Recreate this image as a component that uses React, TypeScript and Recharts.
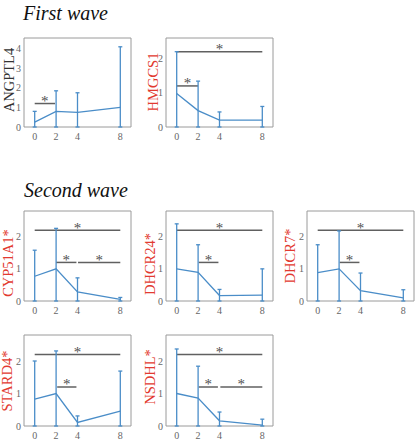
import { ComposedChart, Line, ErrorBar, XAxis, YAxis, ReferenceLine, ReferenceArea } from "recharts";

// sampling days (x axis)
const days = [0, 2, 4, 8];

// first wave
const angptl4Mean = [0.25, 0.8, 0.75, 1.0];
const angptl4Upper = [0.8, 1.85, 1.75, 4.1];
const angptl4Sig = [[0, 1.9, 1.2]];

const hmgcs1Mean = [0.98, 0.48, 0.2, 0.2];
const hmgcs1Upper = [2.2, 1.34, 0.44, 0.6];
const hmgcs1Sig = [[0, 8, 2.2], [0, 2, 1.2]];

// second wave
const cyp51a1Mean = [0.77, 1.0, 0.28, 0.05];
const cyp51a1Upper = [1.58, 2.26, 0.72, 0.11];
const cyp51a1Sig = [[0, 8, 2.2], [2, 3.9, 1.2], [4.05, 8, 1.2]];

const dhcr24Mean = [1.0, 0.89, 0.17, 0.18];
const dhcr24Upper = [2.4, 1.75, 0.36, 1.0];
const dhcr24Sig = [[0, 8, 2.2], [2.05, 3.9, 1.2]];

const dhcr7Mean = [0.88, 1.0, 0.32, 0.1];
const dhcr7Upper = [1.75, 2.18, 0.87, 0.35];
const dhcr7Sig = [[0, 8, 2.2], [2.05, 3.9, 1.2]];

const stard4Mean = [0.83, 1.0, 0.11, 0.46];
const stard4Upper = [2.0, 2.31, 0.31, 1.69];
const stard4Sig = [[0, 8, 2.2], [2.1, 3.9, 1.2]];

const nsdhlMean = [1.0, 0.86, 0.16, 0.03];
const nsdhlUpper = [2.37, 1.84, 0.43, 0.21];
const nsdhlSig = [[0, 8, 2.2], [2.05, 3.85, 1.2], [4.08, 8, 1.2]];

const BLUE = "#4a8dc8";
const RED = "#e23a30";
const GRID = "#9a9a9a";
const SERIF = "'Liberation Serif', 'Times New Roman', Tinos, 'DejaVu Serif', serif";

const BOX_W = 107;
const PAD_L = 40;
const PAD_T = 8;
const PAD_R = 6;
const AX_H = 22;

type PanelProps = {
  name: string;
  nameColor: string;
  mean: number[];
  upper: number[];
  sig: number[][];
  yMax: number;
  yTicks: number[];
  left: number;
  top: number;
  h: number;
  labelX: number;
  labelY: number;
};

function Panel({ name, nameColor, mean, upper, sig, yMax, yTicks, left, top, h, labelX, labelY }: PanelProps) {
  const data = days.map((d, i) => ({ day: d, mean: mean[i], err: [mean[i], upper[i] - mean[i]] }));
  const tick = { fontSize: 10, fill: "#666", fontFamily: SERIF };
  const xDom: [number, number] = [-1, 9];
  const yDom: [number, number] = [0, yMax];
  const inner = { stroke: GRID, strokeWidth: 1 };
  return (
    <>
      <div style={{ position: "absolute", left: left - PAD_L, top: top - PAD_T }}>
        <ComposedChart
          width={PAD_L + BOX_W + PAD_R}
          height={PAD_T + h + AX_H}
          data={data}
          margin={{ top: PAD_T, right: PAD_R, left: 0, bottom: 0 }}
        >
          {/* inward tick marks, matlab style, on all four sides */}
          <XAxis xAxisId="bin" type="number" dataKey="day" domain={xDom} ticks={days} orientation="bottom"
            mirror height={0} tick={false} tickLine={inner} tickSize={2} axisLine={false} allowDataOverflow />
          <XAxis xAxisId="tin" type="number" dataKey="day" domain={xDom} ticks={days} orientation="top"
            mirror height={0} tick={false} tickLine={inner} tickSize={2} axisLine={false} allowDataOverflow />
          <YAxis yAxisId="lin" type="number" domain={yDom} ticks={yTicks} orientation="left"
            mirror width={0} tick={false} tickLine={inner} tickSize={2} axisLine={false} allowDataOverflow />
          <YAxis yAxisId="rin" type="number" domain={yDom} ticks={yTicks} orientation="right"
            mirror width={0} tick={false} tickLine={inner} tickSize={2} axisLine={false} allowDataOverflow />

          <XAxis
            dataKey="day"
            type="number"
            domain={xDom}
            ticks={days}
            axisLine={false}
            tickLine={false}
            tickSize={5}
            tickMargin={1}
            height={AX_H}
            tick={tick}
            allowDataOverflow
          />
          <YAxis
            type="number"
            domain={yDom}
            ticks={yTicks}
            axisLine={false}
            tickLine={false}
            tickSize={2}
            tickMargin={1}
            width={PAD_L}
            tick={tick}
            allowDataOverflow
          />
          <ReferenceArea x1={-1} x2={9} y1={0} y2={yMax} fill="none" stroke={GRID} strokeWidth={1} />
          {sig.map(([x1, x2, y], i) => (
            <ReferenceLine
              key={i}
              segment={[{ x: x1, y }, { x: x2, y }]}
              stroke="#606060"
              strokeWidth={1.5}
              label={{ value: "*", position: "center", dy: -3, fill: "#505050", fontSize: 15, fontFamily: SERIF }}
            />
          ))}
          <Line dataKey="mean" stroke={BLUE} strokeWidth={1.3} dot={false} isAnimationActive={false}>
            <ErrorBar dataKey="err" width={2} stroke={BLUE} strokeWidth={1.3} direction="y" />
          </Line>
        </ComposedChart>
      </div>
      <div
        style={{
          position: "absolute",
          left: labelX,
          top: labelY,
          transform: "translate(-50%, -50%) rotate(-90deg)",
          whiteSpace: "nowrap",
          fontFamily: SERIF,
          fontSize: 14.5,
          lineHeight: "15px",
          color: nameColor,
        }}
      >
        {name}
      </div>
    </>
  );
}

const titleStyle = {
  position: "absolute" as const,
  fontFamily: SERIF,
  fontStyle: "italic",
  fontSize: 20,
  lineHeight: "20px",
  color: "#111",
  whiteSpace: "nowrap" as const,
};

export default function App() {
  const t2 = [0, 1, 2];
  return (
    <div style={{ position: "absolute", left: 0, top: 0, width: 418, height: 445, background: "#fff", overflow: "hidden" }}>
      <div style={{ ...titleStyle, left: 23, top: 3 }}>First wave</div>
      <div style={{ ...titleStyle, left: 24, top: 180 }}>Second wave</div>

      <Panel name="ANGPTL4" nameColor="#333" mean={angptl4Mean} upper={angptl4Upper} sig={angptl4Sig}
        yMax={4.55} yTicks={[0, 1, 2, 3, 4]} left={24.3} top={38} h={89} labelX={8.5} labelY={80} />
      <Panel name="HMGCS1" nameColor={RED} mean={hmgcs1Mean} upper={hmgcs1Upper} sig={hmgcs1Sig}
        yMax={2.6} yTicks={t2} left={166.3} top={38} h={89} labelX={153} labelY={82} />

      <Panel name="CYP51A1*" nameColor={RED} mean={cyp51a1Mean} upper={cyp51a1Upper} sig={cyp51a1Sig}
        yMax={2.8} yTicks={t2} left={24.3} top={211} h={90} labelX={7.5} labelY={263} />
      <Panel name="DHCR24*" nameColor={RED} mean={dhcr24Mean} upper={dhcr24Upper} sig={dhcr24Sig}
        yMax={2.8} yTicks={t2} left={166.3} top={211} h={90} labelX={150} labelY={264} />
      <Panel name="DHCR7*" nameColor={RED} mean={dhcr7Mean} upper={dhcr7Upper} sig={dhcr7Sig}
        yMax={2.8} yTicks={t2} left={307.3} top={211} h={90} labelX={290} labelY={256} />

      <Panel name="STARD4*" nameColor={RED} mean={stard4Mean} upper={stard4Upper} sig={stard4Sig}
        yMax={2.8} yTicks={t2} left={24.3} top={335} h={91} labelX={7} labelY={381} />
      <Panel name="NSDHL*" nameColor={RED} mean={nsdhlMean} upper={nsdhlUpper} sig={nsdhlSig}
        yMax={2.8} yTicks={t2} left={166.3} top={335} h={91} labelX={150} labelY={377} />
    </div>
  );
}
